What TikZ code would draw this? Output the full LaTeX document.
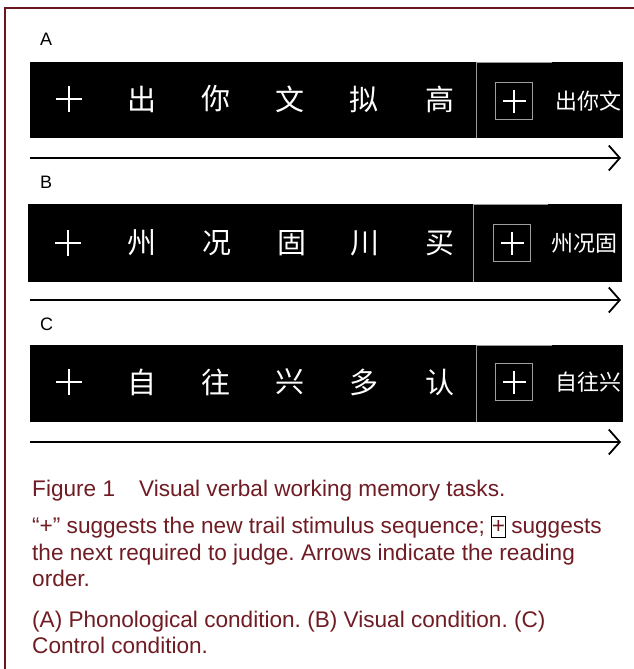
\documentclass[tikz,border=0pt]{standalone}
\usepackage{fontspec}
\setmainfont{Liberation Sans}
\newfontfamily\cjk{Noto Sans CJK SC}
\usetikzlibrary{arrows.meta}
\definecolor{maroon}{RGB}{112,28,36}
\definecolor{framecol}{RGB}{105,22,30}
\frenchspacing
\begin{document}
\begin{tikzpicture}[x=1pt,y=-1pt,
  band/.style={fill=black,draw=none},
  sepline/.style={draw=gray!80,line width=0.8pt},
  bigchar/.style={text=white,font=\cjk\fontsize{29}{29}\selectfont,inner sep=0pt},
  smallchar/.style={text=white,font=\cjk\fontsize{22}{22}\selectfont,inner sep=0pt},
  plusmark/.style={minimum size=26pt,inner sep=0pt,
    path picture={\draw[white,line width=1.5pt]
      (path picture bounding box.north) -- (path picture bounding box.south)
      (path picture bounding box.west) -- (path picture bounding box.east);}},
  boxplus/.style={minimum size=37pt,inner sep=0pt,draw=gray!75,line width=1pt,
    path picture={\draw[white,line width=1.3pt]
      ([yshift=-7pt]path picture bounding box.north) -- ([yshift=7pt]path picture bounding box.south)
      ([xshift=7pt]path picture bounding box.west) -- ([xshift=-7pt]path picture bounding box.east);}},
  seqarrow/.style={line width=2.2pt,-{Straight Barb[length=11pt,width=25pt,line width=1.8pt]}},
  panel/.style={font=\fontsize{18}{18}\selectfont,text=black,inner sep=0pt,anchor=base west},
  captext/.style={font=\fontsize{22.6}{22.6}\selectfont,text=maroon,inner sep=0pt,anchor=base west}
]
\useasboundingbox (0,0) rectangle (633,669);
\fill[white] (0,0) rectangle (633,669);
% frame
\draw[framecol,line width=2.2pt] (5,700) -- (5,8) -- (660,8);

% ---------- Panel A ----------
\node[panel] (labA) at (40,46) {A};
\fill[band] (30,62) rectangle (623,138);
\draw[sepline] (476,138) -- (476,62) -- (552,62);
\node[plusmark] (a0) at (69,99) {};
\node[bigchar] (a1) at (142,99) {出};
\node[bigchar] (a2) at (216,99) {你};
\node[bigchar] (a3) at (290,99) {文};
\node[bigchar] (a4) at (364,99) {拟};
\node[bigchar] (a5) at (440,99) {高};
\node[boxplus] (ab) at (514,101) {};
\node[smallchar] (at) at (588,101) {出你文};
\coordinate (arA1) at (30,158);
\coordinate (arA2) at (621,158);
\draw[seqarrow] (arA1) -- (arA2);

% ---------- Panel B ----------
\node[panel] (labB) at (40,188) {B};
\fill[band] (28,204) rectangle (622,282);
\draw[sepline] (473,282) -- (473,204) -- (548,204);
\node[plusmark] (b0) at (68,243) {};
\node[bigchar] (b1) at (142,243) {州};
\node[bigchar] (b2) at (217,243) {况};
\node[bigchar] (b3) at (292,243) {固};
\node[bigchar] (b4) at (365,243) {川};
\node[bigchar] (b5) at (440,243) {买};
\node[boxplus] (bb) at (512,243) {};
\node[smallchar] (bt) at (584,243) {州况固};
\coordinate (arB1) at (30,300);
\coordinate (arB2) at (621,300);
\draw[seqarrow] (arB1) -- (arB2);

% ---------- Panel C ----------
\node[panel] (labC) at (40,330) {C};
\fill[band] (30,345) rectangle (623,422);
\draw[sepline] (476,422) -- (476,345) -- (552,345);
\node[plusmark] (c0) at (69,382) {};
\node[bigchar] (c1) at (142,382) {自};
\node[bigchar] (c2) at (216,382) {往};
\node[bigchar] (c3) at (290,382) {兴};
\node[bigchar] (c4) at (364,382) {多};
\node[bigchar] (c5) at (440,382) {认};
\node[boxplus] (cb) at (514,382) {};
\node[smallchar] (ct) at (588,382) {自往兴};
\coordinate (arC1) at (30,442);
\coordinate (arC2) at (621,442);
\draw[seqarrow] (arC1) -- (arC2);

% ---------- Caption ----------
\node[captext] (l1) at (32,496) {Figure 1\hspace{24pt}Visual verbal working memory tasks.};
\node[captext] (l2a) at (32,533) {“+” suggests the new trail stimulus sequence;};
\node[captext,draw=black,line width=0.9pt,inner xsep=0.6pt,text height=15pt,text depth=3.5pt,inner ysep=1.2pt]
  (l2b) at ([xshift=5.5pt]l2a.base east) {+};
\node[captext] (l2c) at ([xshift=5pt]l2b.base east) {suggests};
\node[captext] (l3) at (32,560) {the next required to judge. Arrows indicate the reading};
\node[captext] (l4) at (32,586) {order.};
\node[captext] (l5) at (32,627) {(A) Phonological condition. (B) Visual condition. (C)};
\node[captext] (l6) at (32,653) {Control condition.};
\end{tikzpicture}
\end{document}
